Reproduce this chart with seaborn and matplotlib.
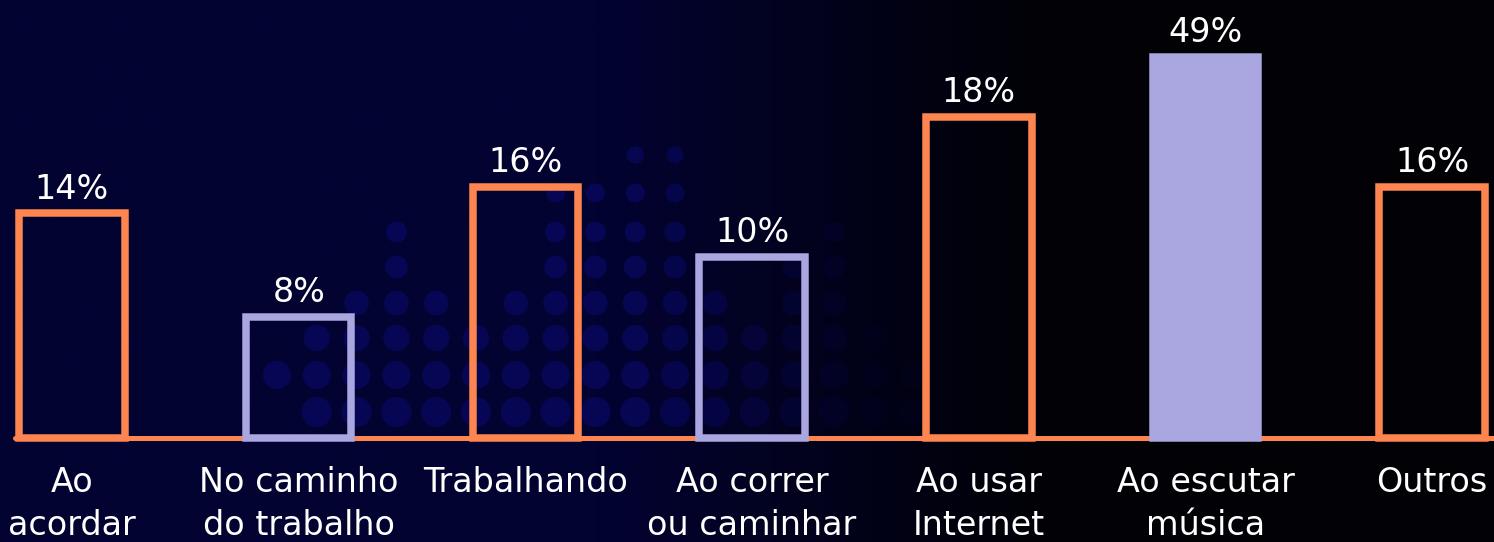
import numpy as np
import pandas as pd
import matplotlib
matplotlib.use("Agg")
import matplotlib.pyplot as plt
import seaborn as sns

# ---- data ----
categories = ["Ao\nacordar", "No caminho\ndo trabalho", "Trabalhando", "Ao correr\nou caminhar",
              "Ao usar\nInternet", "Ao escutar\nmúsica", "Outros"]
percent_values = [14, 8, 16, 10, 18, 49, 16]
# bar heights as drawn in the original graphic (not proportional to the labels)
bar_heights = [28.9, 15.6, 32.3, 23.3, 41.3, 49.0, 32.3]
bar_colors = ["#FF8550", "#A9A6E0", "#FF8550", "#A9A6E0", "#FF8550", "#A9A6E0", "#FF8550"]
bar_filled = [False, False, False, False, False, True, False]

ORANGE = "#FF8550"
W, H = 1494, 542
DPI = 100

sns.set_theme(style="white")
plt.rcParams["font.family"] = ["DejaVu Sans"]

fig = plt.figure(figsize=(W / DPI, H / DPI), dpi=DPI)
fig.patch.set_facecolor("#01011c")

# ---- background (gradient + decorative dot pattern) ----
bg = fig.add_axes([0, 0, 1, 1], zorder=0)
xx = np.linspace(0, 1, 500)
yy = np.linspace(0, 1, 200)
X, Y = np.meshgrid(xx, yy)
t = np.clip((X - 0.40) / 0.30, 0, 1)
left = np.array([3, 3, 50]) / 255.0
right = np.array([1, 1, 6]) / 255.0
img = left[None, None, :] * (1 - t[..., None]) + right[None, None, :] * t[..., None]
bg.imshow(img, aspect="auto", extent=[0, W, H, 0], origin="upper")

dot_cols = np.arange(277, 915, 39.8)
dot_rows = [412, 375, 338, 303, 267, 232, 193, 155]
col_heights = [1, 3, 4, 6, 4, 3, 4, 7, 7, 8, 8, 4, 3, 5, 6, 3, 2]
for cx, nh in zip(dot_cols, col_heights):
    rows = dot_rows[:nh]
    if cx < 290:
        rows = [375]
    fade = 1.0 if cx < 640 else max(0.12, 1 - (cx - 640) / 260)
    for ry in rows:
        d = 30 - (412 - ry) * 0.05
        bg.scatter([cx], [ry], s=(d * 0.72) ** 2, color="#0a0a78", alpha=0.5 * fade,
                   edgecolors="none")
bg.set_xlim(0, W)
bg.set_ylim(H, 0)
bg.axis("off")

# ---- chart ----
base_px = 438
ax = fig.add_axes([0, (H - base_px) / H, 1, base_px / H], zorder=1)
ax.patch.set_alpha(0)

df = pd.DataFrame({"cat": categories, "h": bar_heights})
sns.barplot(data=df, x="cat", y="h", hue="cat", palette=bar_colors, legend=False,
            width=0.465, ax=ax, saturation=1)

for p, col, filled in zip(ax.patches, bar_colors, bar_filled):
    p.set_edgecolor(col)
    p.set_linewidth(5.4)
    p.set_facecolor(col if filled else "none")
    p.set_joinstyle("miter")
    p.set_clip_on(False)

ax.set_xlim(-72 / 226.7, (W - 72) / 226.7)
ax.set_ylim(0, base_px / 7.776)
ax.axhline(0, xmin=15 / W, xmax=1, color=ORANGE, lw=3.6, zorder=0.5, clip_on=False)

for i, (h, v) in enumerate(zip(bar_heights, percent_values)):
    ax.annotate(f"{v}%", xy=(i, h), xytext=(0, 10.5), textcoords="offset points",
                ha="center", va="baseline", color="white", fontsize=24)
    ax.annotate(categories[i], xy=(i, 0), xytext=(0, -20), textcoords="offset points",
                ha="center", va="top", color="white", fontsize=24, linespacing=1.4,
                annotation_clip=False)

ax.set_xticks([])
ax.set_yticks([])
ax.set_xlabel("")
ax.set_ylabel("")
sns.despine(ax=ax, left=True, bottom=True)

fig.savefig("out.png", dpi=DPI, facecolor=fig.get_facecolor())
